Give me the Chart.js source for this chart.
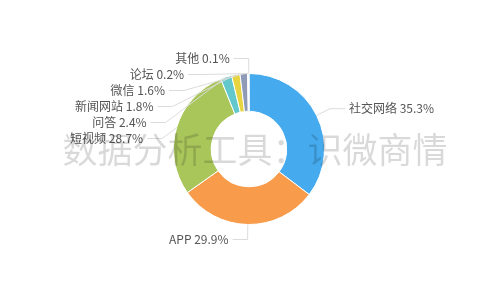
<!DOCTYPE html>
<html>
<head>
<meta charset="utf-8">
<script src="https://cdn.jsdelivr.net/npm/chart.js@4"></script>
<style>
  html, body { margin: 0; padding: 0; background: #fff; }
  #wrap { width: 500px; height: 300px; }
</style>
</head>
<body>
<div id="wrap"><canvas id="chart" width="500" height="300"></canvas></div>
<script>
// share of mentions by channel, %
const channels = ['社交网络', 'APP', '短视频', '问答', '新闻网站', '微信', '论坛', '其他'];
const shares = [35.3, 29.9, 28.7, 2.4, 1.8, 1.6, 0.2, 0.1];
const sliceColors = ['#45abee', '#f89b4b', '#a9c65b', '#62c8cc', '#e6d540', '#8f9ab6', '#e5a09b', '#f2c6a0'];
const watermark = '数据分析工具：识微商情';

const FONT = '"Noto Sans CJK SC", "Microsoft YaHei", sans-serif';

// big translucent grey text laid over the chart
const watermarkPlugin = {
  id: 'watermark',
  afterDraw(chart) {
    const ctx = chart.ctx;
    ctx.save();
    ctx.font = '35px ' + FONT;
    ctx.fillStyle = 'rgba(0,0,0,0.15)';
    ctx.textAlign = 'center';
    ctx.textBaseline = 'middle';
    ctx.fillText(watermark, 255, 150);
    ctx.restore();
  }
};

// outside labels with leader lines, roughly like echarts pie labels
const pieLabels = {
  id: 'pieLabels',
  afterDatasetsDraw(chart) {
    const ctx = chart.ctx;
    const meta = chart.getDatasetMeta(0);
    const len1 = 15, len2 = 15, gap = 16;

    const items = meta.data.map((arc, i) => {
      const p = arc.getProps(['x', 'y', 'startAngle', 'endAngle', 'outerRadius'], true);
      const mid = (p.startAngle + p.endAngle) / 2;
      const cos = Math.cos(mid), sin = Math.sin(mid);
      const ey = p.y + sin * (p.outerRadius + len1);
      return {
        i, cx: p.x, cy: p.y, r: p.outerRadius,
        px: p.x + cos * p.outerRadius, py: p.y + sin * p.outerRadius,
        ex: p.x + cos * (p.outerRadius + len1), ey,
        left: cos < 0, y: ey
      };
    });

    // push labels down so they don't overlap
    [true, false].forEach(side => {
      const list = items.filter(it => it.left === side).sort((a, b) => a.ey - b.ey);
      let prev = -Infinity;
      list.forEach(it => { it.y = Math.max(it.ey, prev + gap); prev = it.y; });
    });

    ctx.save();
    ctx.font = '12px ' + FONT;
    ctx.textBaseline = 'middle';
    items.forEach(it => {
      const dir = it.left ? -1 : 1;
      let ex = it.ex;
      if (Math.abs(it.y - it.ey) > 0.5) {
        const R = it.r + 12, dy = it.y - it.cy;
        ex = it.cx + dir * Math.sqrt(Math.max(0, R * R - dy * dy));
      }
      const endX = ex + dir * len2;

      ctx.strokeStyle = '#dcdcdc';
      ctx.lineWidth = 1;
      ctx.beginPath();
      ctx.moveTo(it.px, it.py);
      ctx.lineTo(ex, it.y);
      ctx.lineTo(endX, it.y);
      ctx.stroke();

      ctx.fillStyle = '#555';
      ctx.textAlign = it.left ? 'right' : 'left';
      ctx.fillText(channels[it.i] + ' ' + shares[it.i] + '%', endX + dir * 4, it.y);
    });
    ctx.restore();
  }
};

new Chart(document.getElementById('chart'), {
  type: 'doughnut',
  data: {
    labels: channels,
    datasets: [{
      data: shares,
      backgroundColor: sliceColors,
      borderColor: '#fff',
      borderWidth: 1,
    }],
  },
  options: {
    responsive: false,
    animation: false,
    cutout: '50%',
    layout: { padding: { top: 73, bottom: 75, left: 173, right: 175 } },
    plugins: {
      legend: { display: false },
      tooltip: { enabled: false },
    },
  },
  plugins: [pieLabels, watermarkPlugin],
});
</script>
</body>
</html>
